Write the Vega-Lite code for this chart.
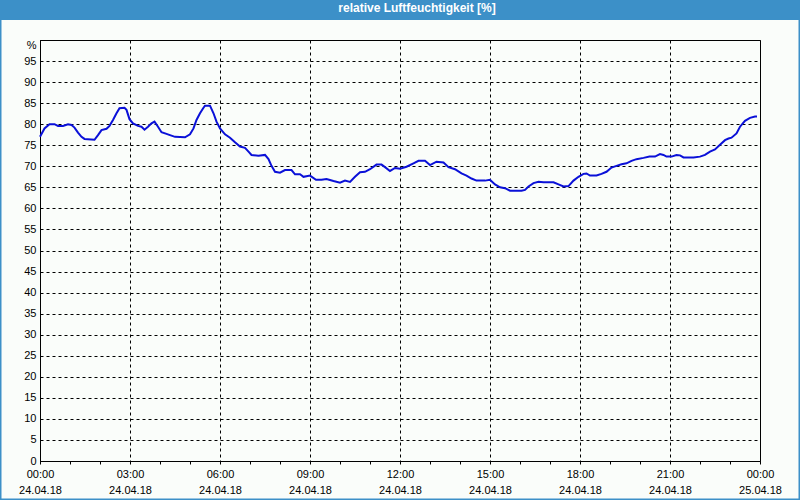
{
  "$schema": "https://vega.github.io/schema/vega-lite/v6.json",
  "width": 720,
  "height": 421,
  "autosize": {"type": "none"},
  "padding": {"left": 40, "top": 40, "right": 40, "bottom": 39},
  "background": "#fafdfa",
  "title": {
    "text": "relative Luftfeuchtigkeit [%]",
    "color": "white",
    "font": "Liberation Sans",
    "fontSize": 12,
    "fontWeight": "bold",
    "anchor": "middle",
    "frame": "group",
    "dx": 17,
    "offset": -16
  },
  "config": {
    "view": {"stroke": "black", "strokeWidth": 1},
    "axis": {
      "labelFont": "Liberation Sans",
      "labelFontSize": 11,
      "labelColor": "black",
      "domainColor": "black",
      "tickColor": "black",
      "gridColor": "black",
      "gridDash": [3, 3],
      "gridWidth": 1,
      "gridOpacity": 1,
      "title": null
    }
  },
  "datasets": {
    "humidity": [
      {"time": "2018-04-24T00:00", "rh": 77.0},
      {"time": "2018-04-24T00:09", "rh": 79.0},
      {"time": "2018-04-24T00:19", "rh": 80.0},
      {"time": "2018-04-24T00:29", "rh": 80.0},
      {"time": "2018-04-24T00:36", "rh": 79.6},
      {"time": "2018-04-24T00:46", "rh": 79.6},
      {"time": "2018-04-24T00:56", "rh": 80.0},
      {"time": "2018-04-24T01:03", "rh": 79.8},
      {"time": "2018-04-24T01:09", "rh": 79.2},
      {"time": "2018-04-24T01:16", "rh": 78.0},
      {"time": "2018-04-24T01:23", "rh": 77.0},
      {"time": "2018-04-24T01:29", "rh": 76.5},
      {"time": "2018-04-24T01:49", "rh": 76.3},
      {"time": "2018-04-24T01:56", "rh": 77.4},
      {"time": "2018-04-24T02:03", "rh": 78.6},
      {"time": "2018-04-24T02:13", "rh": 78.9},
      {"time": "2018-04-24T02:19", "rh": 79.6},
      {"time": "2018-04-24T02:26", "rh": 81.0},
      {"time": "2018-04-24T02:33", "rh": 82.6},
      {"time": "2018-04-24T02:39", "rh": 83.8},
      {"time": "2018-04-24T02:49", "rh": 83.9},
      {"time": "2018-04-24T02:53", "rh": 83.4},
      {"time": "2018-04-24T02:59", "rh": 81.2},
      {"time": "2018-04-24T03:06", "rh": 80.2},
      {"time": "2018-04-24T03:16", "rh": 79.6},
      {"time": "2018-04-24T03:23", "rh": 79.4},
      {"time": "2018-04-24T03:29", "rh": 78.7},
      {"time": "2018-04-24T03:36", "rh": 79.4},
      {"time": "2018-04-24T03:43", "rh": 80.2},
      {"time": "2018-04-24T03:49", "rh": 80.6},
      {"time": "2018-04-24T03:56", "rh": 79.4},
      {"time": "2018-04-24T04:03", "rh": 78.1},
      {"time": "2018-04-24T04:13", "rh": 77.7},
      {"time": "2018-04-24T04:20", "rh": 77.4},
      {"time": "2018-04-24T04:30", "rh": 77.0},
      {"time": "2018-04-24T04:50", "rh": 76.9},
      {"time": "2018-04-24T05:00", "rh": 77.6},
      {"time": "2018-04-24T05:07", "rh": 79.0},
      {"time": "2018-04-24T05:13", "rh": 81.0},
      {"time": "2018-04-24T05:20", "rh": 82.6},
      {"time": "2018-04-24T05:27", "rh": 83.9},
      {"time": "2018-04-24T05:30", "rh": 84.4},
      {"time": "2018-04-24T05:40", "rh": 84.4},
      {"time": "2018-04-24T05:47", "rh": 82.6},
      {"time": "2018-04-24T05:53", "rh": 80.6},
      {"time": "2018-04-24T06:00", "rh": 79.0},
      {"time": "2018-04-24T06:10", "rh": 77.6},
      {"time": "2018-04-24T06:20", "rh": 76.8},
      {"time": "2018-04-24T06:30", "rh": 75.7},
      {"time": "2018-04-24T06:40", "rh": 74.7},
      {"time": "2018-04-24T06:50", "rh": 74.4},
      {"time": "2018-04-24T06:57", "rh": 73.5},
      {"time": "2018-04-24T07:03", "rh": 72.7},
      {"time": "2018-04-24T07:17", "rh": 72.5},
      {"time": "2018-04-24T07:30", "rh": 72.7},
      {"time": "2018-04-24T07:37", "rh": 71.7},
      {"time": "2018-04-24T07:43", "rh": 70.1},
      {"time": "2018-04-24T07:50", "rh": 68.7},
      {"time": "2018-04-24T08:00", "rh": 68.5},
      {"time": "2018-04-24T08:10", "rh": 69.1},
      {"time": "2018-04-24T08:23", "rh": 69.1},
      {"time": "2018-04-24T08:30", "rh": 68.1},
      {"time": "2018-04-24T08:40", "rh": 68.1},
      {"time": "2018-04-24T08:47", "rh": 67.5},
      {"time": "2018-04-24T09:00", "rh": 67.8},
      {"time": "2018-04-24T09:12", "rh": 66.8},
      {"time": "2018-04-24T09:23", "rh": 66.8},
      {"time": "2018-04-24T09:33", "rh": 67.0},
      {"time": "2018-04-24T09:47", "rh": 66.5},
      {"time": "2018-04-24T10:00", "rh": 66.1},
      {"time": "2018-04-24T10:10", "rh": 66.6},
      {"time": "2018-04-24T10:20", "rh": 66.3},
      {"time": "2018-04-24T10:30", "rh": 67.5},
      {"time": "2018-04-24T10:40", "rh": 68.6},
      {"time": "2018-04-24T10:50", "rh": 68.7},
      {"time": "2018-04-24T11:00", "rh": 69.3},
      {"time": "2018-04-24T11:13", "rh": 70.4},
      {"time": "2018-04-24T11:23", "rh": 70.4},
      {"time": "2018-04-24T11:30", "rh": 69.8},
      {"time": "2018-04-24T11:40", "rh": 68.9},
      {"time": "2018-04-24T11:50", "rh": 69.6},
      {"time": "2018-04-24T12:00", "rh": 69.4},
      {"time": "2018-04-24T12:13", "rh": 69.9},
      {"time": "2018-04-24T12:27", "rh": 70.7},
      {"time": "2018-04-24T12:37", "rh": 71.3},
      {"time": "2018-04-24T12:50", "rh": 71.3},
      {"time": "2018-04-24T13:00", "rh": 70.3},
      {"time": "2018-04-24T13:13", "rh": 71.1},
      {"time": "2018-04-24T13:27", "rh": 70.9},
      {"time": "2018-04-24T13:37", "rh": 69.8},
      {"time": "2018-04-24T13:50", "rh": 69.3},
      {"time": "2018-04-24T14:03", "rh": 68.3},
      {"time": "2018-04-24T14:13", "rh": 67.8},
      {"time": "2018-04-24T14:23", "rh": 67.1},
      {"time": "2018-04-24T14:33", "rh": 66.6},
      {"time": "2018-04-24T14:50", "rh": 66.6},
      {"time": "2018-04-24T15:00", "rh": 66.8},
      {"time": "2018-04-24T15:10", "rh": 65.7},
      {"time": "2018-04-24T15:20", "rh": 65.0},
      {"time": "2018-04-24T15:30", "rh": 64.8},
      {"time": "2018-04-24T15:40", "rh": 64.2},
      {"time": "2018-04-24T16:03", "rh": 64.2},
      {"time": "2018-04-24T16:10", "rh": 64.4},
      {"time": "2018-04-24T16:17", "rh": 65.2},
      {"time": "2018-04-24T16:27", "rh": 66.0},
      {"time": "2018-04-24T16:37", "rh": 66.3},
      {"time": "2018-04-24T16:47", "rh": 66.2},
      {"time": "2018-04-24T17:07", "rh": 66.2},
      {"time": "2018-04-24T17:17", "rh": 65.7},
      {"time": "2018-04-24T17:27", "rh": 65.2},
      {"time": "2018-04-24T17:37", "rh": 65.3},
      {"time": "2018-04-24T17:47", "rh": 66.6},
      {"time": "2018-04-24T17:57", "rh": 67.5},
      {"time": "2018-04-24T18:07", "rh": 68.2},
      {"time": "2018-04-24T18:13", "rh": 68.3},
      {"time": "2018-04-24T18:20", "rh": 67.8},
      {"time": "2018-04-24T18:33", "rh": 67.8},
      {"time": "2018-04-24T18:43", "rh": 68.2},
      {"time": "2018-04-24T18:53", "rh": 68.7},
      {"time": "2018-04-24T19:03", "rh": 69.7},
      {"time": "2018-04-24T19:13", "rh": 70.1},
      {"time": "2018-04-24T19:23", "rh": 70.5},
      {"time": "2018-04-24T19:33", "rh": 70.7},
      {"time": "2018-04-24T19:43", "rh": 71.3},
      {"time": "2018-04-24T19:53", "rh": 71.7},
      {"time": "2018-04-24T20:07", "rh": 72.0},
      {"time": "2018-04-24T20:19", "rh": 72.3},
      {"time": "2018-04-24T20:30", "rh": 72.3},
      {"time": "2018-04-24T20:40", "rh": 72.9},
      {"time": "2018-04-24T20:47", "rh": 72.7},
      {"time": "2018-04-24T20:53", "rh": 72.3},
      {"time": "2018-04-24T21:03", "rh": 72.3},
      {"time": "2018-04-24T21:13", "rh": 72.7},
      {"time": "2018-04-24T21:20", "rh": 72.6},
      {"time": "2018-04-24T21:27", "rh": 72.1},
      {"time": "2018-04-24T21:47", "rh": 72.1},
      {"time": "2018-04-24T22:00", "rh": 72.3},
      {"time": "2018-04-24T22:10", "rh": 72.7},
      {"time": "2018-04-24T22:20", "rh": 73.5},
      {"time": "2018-04-24T22:30", "rh": 74.0},
      {"time": "2018-04-24T22:40", "rh": 75.1},
      {"time": "2018-04-24T22:50", "rh": 76.2},
      {"time": "2018-04-24T22:57", "rh": 76.6},
      {"time": "2018-04-24T23:03", "rh": 76.8},
      {"time": "2018-04-24T23:13", "rh": 77.8},
      {"time": "2018-04-24T23:20", "rh": 79.4},
      {"time": "2018-04-24T23:30", "rh": 80.8},
      {"time": "2018-04-24T23:40", "rh": 81.5},
      {"time": "2018-04-24T23:50", "rh": 81.8},
      {"time": "2018-04-24T23:54", "rh": 81.8}
    ],
    "frame": [
      {"time": "2018-04-23T22:40", "time2": "2018-04-25T01:20", "rh": 109.5, "rh2": -9.26}
    ],
    "titlebar": [
      {"time": "2018-04-23T22:40", "time2": "2018-04-25T01:20", "rh": 109.5, "rh2": 104.75}
    ]
  },
  "encoding": {
    "x": {
      "field": "time",
      "type": "temporal",
      "scale": {"domain": [
        {"year": 2018, "month": 4, "date": 24, "hours": 0},
        {"year": 2018, "month": 4, "date": 25, "hours": 0}
      ]},
      "axis": {
        "values": [
          {"year": 2018, "month": 4, "date": 24, "hours": 0},
          {"year": 2018, "month": 4, "date": 24, "hours": 1},
          {"year": 2018, "month": 4, "date": 24, "hours": 2},
          {"year": 2018, "month": 4, "date": 24, "hours": 3},
          {"year": 2018, "month": 4, "date": 24, "hours": 4},
          {"year": 2018, "month": 4, "date": 24, "hours": 5},
          {"year": 2018, "month": 4, "date": 24, "hours": 6},
          {"year": 2018, "month": 4, "date": 24, "hours": 7},
          {"year": 2018, "month": 4, "date": 24, "hours": 8},
          {"year": 2018, "month": 4, "date": 24, "hours": 9},
          {"year": 2018, "month": 4, "date": 24, "hours": 10},
          {"year": 2018, "month": 4, "date": 24, "hours": 11},
          {"year": 2018, "month": 4, "date": 24, "hours": 12},
          {"year": 2018, "month": 4, "date": 24, "hours": 13},
          {"year": 2018, "month": 4, "date": 24, "hours": 14},
          {"year": 2018, "month": 4, "date": 24, "hours": 15},
          {"year": 2018, "month": 4, "date": 24, "hours": 16},
          {"year": 2018, "month": 4, "date": 24, "hours": 17},
          {"year": 2018, "month": 4, "date": 24, "hours": 18},
          {"year": 2018, "month": 4, "date": 24, "hours": 19},
          {"year": 2018, "month": 4, "date": 24, "hours": 20},
          {"year": 2018, "month": 4, "date": 24, "hours": 21},
          {"year": 2018, "month": 4, "date": 24, "hours": 22},
          {"year": 2018, "month": 4, "date": 24, "hours": 23},
          {"year": 2018, "month": 4, "date": 25, "hours": 0}
        ],
        "labelExpr": "hours(datum.value) % 3 == 0 ? [timeFormat(datum.value, '%H:%M'), timeFormat(datum.value, '%d.%m.%y')] : ''",
        "labelOverlap": false,
        "labelFlush": false,
        "labelPadding": 4,
        "labelLineHeight": 16,
        "tickSize": 3,
        "gridOpacity": {"condition": {"test": "hours(datum.value) % 3 == 0", "value": 1}, "value": 0}
      }
    },
    "y": {
      "field": "rh",
      "type": "quantitative",
      "scale": {"domain": [0, 100], "nice": false, "zero": true},
      "axis": {
        "values": [0, 5, 10, 15, 20, 25, 30, 35, 40, 45, 50, 55, 60, 65, 70, 75, 80, 85, 90, 95, 100],
        "labelExpr": "datum.value == 100 ? '%' : datum.label",
        "labelOffset": {"condition": {"test": "datum.value == 100", "value": 5}, "value": 0},
        "labelOverlap": false,
        "tickSize": 0,
        "labelPadding": 4
      }
    }
  },
  "layer": [
    {
      "data": {"name": "humidity"},
      "mark": {"type": "line", "color": "#0a10d8", "strokeWidth": 2, "interpolate": "linear"}
    },
    {
      "data": {"name": "titlebar"},
      "mark": {"type": "rect", "color": "#3c90c8"},
      "encoding": {
        "x2": {"field": "time2"},
        "y2": {"field": "rh2"}
      }
    },
    {
      "data": {"name": "frame"},
      "mark": {"type": "rect", "filled": false, "stroke": "#3c90c8", "strokeWidth": 3},
      "encoding": {
        "x2": {"field": "time2"},
        "y2": {"field": "rh2"}
      }
    }
  ]
}
